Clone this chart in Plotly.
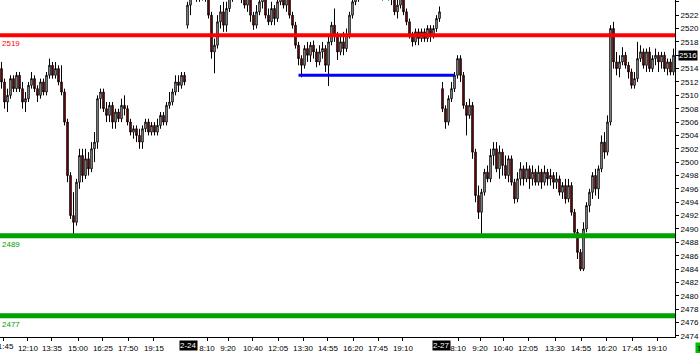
import plotly.graph_objects as go

# ---- Day 1 (ends 2-23) ----
d1_open = [2514, 2512, 2509, 2510, 2512.5, 2511, 2513, 2511, 2509, 2509.5,
           2511.5, 2512.5, 2511, 2510, 2512, 2510.5, 2513, 2514.5, 2513, 2514,
           2512, 2510.5, 2506, 2498, 2492, 2491, 2497, 2501, 2498, 2500.5,
           2499, 2502, 2503, 2509.5, 2510.5, 2508, 2507, 2508.5, 2506, 2507.5,
           2506.5, 2508.5, 2508, 2506, 2504.5, 2505, 2504, 2503, 2505, 2506,
           2504.5, 2505.5, 2504.5, 2505.5, 2507, 2506, 2508.5, 2509, 2510.5, 2512,
           2511.5, 2513, 2520.5]
d1_high = [2515, 2512.5, 2511, 2513, 2513, 2513.5, 2513.5, 2512, 2510.5, 2512,
           2513.5, 2513, 2511.5, 2512.5, 2512.5, 2513.5, 2515.5, 2515, 2515, 2514.5,
           2514.5, 2511, 2506.5, 2498.5, 2495.5, 2497.5, 2502, 2502, 2502, 2501.5,
           2503, 2504.5, 2510, 2511, 2511, 2509, 2509, 2509, 2508, 2508,
           2509.5, 2510, 2508.5, 2506.5, 2505.5, 2505.5, 2505, 2505.5, 2506.5, 2506.5,
           2506, 2506, 2506.5, 2507.5, 2507.5, 2509, 2510.5, 2511, 2513, 2513,
           2513.5, 2513.5, 2524]
d1_low = [2511, 2508, 2507.5, 2509.5, 2510.5, 2510.5, 2510.5, 2508, 2507.5, 2509,
          2511, 2510.5, 2509, 2509.5, 2510, 2510, 2512.5, 2512.5, 2512.5, 2511.5,
          2510, 2505.5, 2497, 2491.5, 2489, 2490.5, 2496, 2497, 2497.5, 2498,
          2498.5, 2500, 2502, 2508, 2507.5, 2506, 2506, 2505, 2505, 2506,
          2506, 2507, 2505.5, 2504, 2503.5, 2503, 2502, 2502, 2504.5, 2504,
          2504, 2504, 2504, 2505, 2505.5, 2505.5, 2508, 2508.5, 2510, 2510.5,
          2511, 2511.5, 2520]
d1_close = [2512, 2509, 2510, 2512.5, 2511, 2513, 2511, 2509, 2509.5, 2511.5,
            2512.5, 2511, 2510, 2512, 2510.5, 2513, 2514.5, 2513, 2514, 2512,
            2510.5, 2506, 2498, 2492, 2491, 2497, 2501, 2498, 2500.5, 2499,
            2502, 2503, 2509.5, 2510.5, 2508, 2507, 2508.5, 2506, 2507.5, 2506.5,
            2508.5, 2508, 2506, 2504.5, 2505, 2504, 2503, 2505, 2506, 2504.5,
            2505.5, 2504.5, 2505.5, 2507, 2506, 2508.5, 2509, 2510.5, 2512, 2511.5,
            2513, 2512, 2523.5]

# ---- Day 2 (2-24) ----
d2_open = [2523.5, 2525.5, 2526.5, 2525, 2526, 2525, 2525.5, 2522, 2516.5, 2517.5,
           2521, 2522.5, 2520.5, 2523, 2525, 2526, 2525.5, 2526.5, 2525, 2523.5,
           2524.5, 2522, 2520.5, 2522.5, 2524, 2525, 2522, 2521, 2523, 2521.5,
           2524, 2525.5, 2523.5, 2524.5, 2522, 2520.5, 2517.5, 2515.5, 2514.5, 2517,
           2516, 2517.5, 2516.5, 2515, 2516.5, 2517, 2514.5, 2518, 2520.5, 2519,
           2516.5, 2518, 2517, 2519, 2522, 2524, 2526, 2525, 2527, 2526,
           2527.5, 2526.5, 2527, 2525.5, 2526, 2525, 2526, 2525, 2524.5, 2522.5,
           2523.5, 2524.5, 2522.5, 2521, 2519, 2518, 2519.5, 2518.5, 2519.5, 2518.5,
           2520, 2519, 2520, 2521.5]
d2_high = [2526, 2527.5, 2527, 2527, 2527, 2526.5, 2526, 2522.5, 2518.5, 2522,
           2523.5, 2524, 2524, 2526, 2527, 2527, 2527.5, 2527, 2525.5, 2525.5,
           2525, 2522.5, 2523.5, 2525, 2526, 2525.5, 2523, 2524, 2523.5, 2525,
           2526.5, 2526, 2525.5, 2525, 2522.5, 2521, 2518, 2516, 2517.5, 2518,
           2518, 2518.2, 2517, 2517.5, 2518, 2517.5, 2519, 2521, 2523, 2519.5,
           2519, 2519.5, 2520, 2522.5, 2525, 2527, 2527, 2528, 2528, 2528.5,
           2528.5, 2528, 2527.5, 2527, 2527, 2527, 2527, 2526, 2525, 2524.5,
           2525.5, 2525, 2523, 2521.5, 2519.5, 2520, 2520, 2520, 2520, 2520.5,
           2520.5, 2520.5, 2522, 2523.3]
d2_low = [2522, 2524.5, 2524, 2524, 2524.2, 2524, 2521.5, 2515.5, 2513.3, 2517,
          2520, 2519.5, 2519.5, 2522.5, 2524, 2524.5, 2524.6, 2523.8, 2523, 2522.5,
          2521, 2519.8, 2520, 2522, 2523, 2521.5, 2520.5, 2520.5, 2520.5, 2521,
          2523.5, 2523, 2522.5, 2521.5, 2520, 2517, 2514.5, 2512.7, 2514, 2515,
          2515, 2515.5, 2514.2, 2514.5, 2515.5, 2513.5, 2511.4, 2517.5, 2518, 2515.3,
          2516, 2516, 2516.5, 2518.5, 2521.5, 2523.5, 2524, 2524.3, 2525, 2525.5,
          2525.5, 2525.5, 2524.8, 2524.5, 2524.2, 2524.5, 2524.2, 2523.5, 2522, 2521.5,
          2523, 2522, 2520.5, 2518.5, 2517.3, 2517.5, 2517.5, 2518, 2518, 2518,
          2518, 2518.5, 2519.5, 2521]
d2_close = [2525.5, 2526.5, 2525, 2526, 2525, 2525.5, 2522, 2516.5, 2517.5, 2521,
            2522.5, 2520.5, 2523, 2525, 2526, 2525.5, 2526.5, 2525, 2523.5, 2524.5,
            2522, 2520.5, 2522.5, 2524, 2525, 2522, 2521, 2523, 2521.5, 2524,
            2525.5, 2523.5, 2524.5, 2522, 2520.5, 2517.5, 2515.5, 2514.5, 2517, 2516,
            2517.5, 2516.5, 2515, 2516.5, 2517, 2514.5, 2518, 2520.5, 2519, 2516.5,
            2518, 2517, 2519, 2522, 2524, 2526, 2525, 2527, 2526, 2527.5,
            2526.5, 2527, 2525.5, 2526, 2525, 2526, 2525, 2524.5, 2522.5, 2523.5,
            2524.5, 2522.5, 2521, 2519, 2518, 2519.5, 2518.5, 2519.5, 2518.5, 2520,
            2519, 2520, 2521.5, 2522.5]

# ---- Day 3 (2-27) ----
d3_open = [2511, 2508, 2506, 2509.5, 2511, 2513, 2515.5, 2513, 2508.5, 2507,
           2508.5, 2501.5, 2495, 2492.5, 2495.5, 2498.5, 2497.5, 2501, 2502, 2499,
           2501.5, 2499.5, 2498, 2500.5, 2497, 2494.5, 2497.5, 2499, 2497.5, 2499,
           2497.5, 2498.5, 2497, 2498.5, 2497, 2498.5, 2497.5, 2498, 2497, 2497.5,
           2495.5, 2496.5, 2494.5, 2496.5, 2492.5, 2489.5, 2486.5, 2484, 2490, 2493.5,
           2495.5, 2498, 2496, 2499, 2503, 2501.5, 2506, 2520, 2515, 2514,
           2515, 2516, 2514.5, 2513.5, 2511.5, 2512.5, 2515.5, 2516.5, 2514.5, 2516.5,
           2514, 2515.5, 2516, 2515, 2516, 2514, 2515, 2513.5]
d3_high = [2512, 2508.5, 2510, 2512, 2513.5, 2516, 2516, 2513.5, 2509, 2509.5,
           2509, 2502, 2496.5, 2496, 2499, 2499.5, 2502, 2503, 2503, 2502.5,
           2502, 2501, 2501, 2501, 2497.5, 2498.5, 2500, 2499.5, 2500, 2499.5,
           2499.5, 2499, 2499.5, 2499, 2499.5, 2499, 2499, 2498.5, 2498.5, 2498,
           2497, 2497.5, 2497.5, 2497, 2493, 2490, 2487, 2491, 2494, 2496,
           2498.5, 2499, 2499.5, 2504, 2504.5, 2507, 2520.5, 2521, 2516.5, 2516,
           2517.2, 2516.5, 2515, 2514, 2513.5, 2518, 2517.5, 2517, 2517, 2517.2,
           2516, 2517, 2516.5, 2516.5, 2516.5, 2515.5, 2515.5, 2517]
d3_low = [2507.5, 2505, 2505.5, 2509, 2510.5, 2512.5, 2512, 2508, 2504, 2506.5,
          2500.5, 2494, 2491.5, 2489, 2495, 2497, 2497, 2499.5, 2498.5, 2497.5,
          2498, 2497.5, 2497, 2496.5, 2493.8, 2494, 2496.5, 2496.5, 2497, 2496,
          2496.5, 2496.5, 2496.5, 2496, 2496.5, 2496.5, 2496.5, 2496, 2496, 2495,
          2494.5, 2493.8, 2494, 2492, 2489, 2485.5, 2483.7, 2483.7, 2489.5, 2492.5,
          2494.5, 2495, 2494.5, 2498.5, 2500.5, 2501, 2505.5, 2514, 2513, 2512.7,
          2514.5, 2514, 2512.5, 2511, 2511, 2512, 2515, 2514, 2513.5, 2513.5,
          2513.5, 2514.5, 2513.5, 2514, 2513.5, 2513, 2513, 2513]
d3_close = [2508, 2506, 2509.5, 2511, 2513, 2515.5, 2513, 2508.5, 2507, 2508.5,
            2501.5, 2495, 2492.5, 2495.5, 2498.5, 2497.5, 2501, 2502, 2499, 2501.5,
            2499.5, 2498, 2500.5, 2497, 2494.5, 2497.5, 2499, 2497.5, 2499, 2497.5,
            2498.5, 2497, 2498.5, 2497, 2498.5, 2497.5, 2498, 2497, 2497.5, 2495.5,
            2496.5, 2494.5, 2496.5, 2492.5, 2489.5, 2486.5, 2484, 2490, 2493.5, 2495.5,
            2498, 2496, 2499, 2503, 2501.5, 2506, 2520, 2515, 2514, 2515,
            2516, 2514.5, 2513.5, 2511.5, 2512.5, 2515.5, 2516.5, 2514.5, 2516.5, 2514,
            2515.5, 2516, 2515, 2516, 2514, 2515, 2513.5, 2516]

opens = d1_open + d2_open + d3_open
highs = d1_high + d2_high + d3_high
lows = d1_low + d2_low + d3_low
closes = d1_close + d2_close + d3_close
bars = list(range(len(opens)))

# horizontal levels
red_level = 2519
green_levels = [2489, 2477]
blue_level = 2513
blue_from_bar = 99
blue_to_bar = 151
last_price = 2516

# axis labels
first_time_label = "11:45"
first_time_pos = 0.8
time_labels = ["12:10", "13:35", "15:00", "16:25", "17:50", "19:15",
               "8:10", "9:20", "10:40", "12:05", "13:30", "14:55", "16:20", "17:45", "19:10",
               "8:10", "9:20", "10:40", "12:05", "13:30", "14:55", "16:20", "17:45", "19:10"]
time_pos = [8.8, 16.8, 25.5, 33.8, 42.2, 50.8,
            68.5, 75.5, 83.8, 92.2, 100.5, 108.8, 117.2, 125.5, 133.8,
            152.2, 159.5, 167.2, 175.5, 184.5, 193.2, 201.8, 210.2, 218.5]
date_labels = ["2-24", "2-27"]
date_pos = [62.2, 146.5]
price_ticks = list(range(2474, 2525, 2))
price_text = ["" if v == last_price else str(v) for v in price_ticks]

FONT = "Liberation Sans"

fig = go.Figure()
fig.add_trace(go.Candlestick(
    x=bars, open=opens, high=highs, low=lows, close=closes,
    increasing=dict(line=dict(color="#000000", width=1), fillcolor="#E0E0E0"),
    decreasing=dict(line=dict(color="#000000", width=1), fillcolor="#C00000"),
    whiskerwidth=0, showlegend=False, hoverinfo="skip"))

shapes = [dict(type="line", xref="paper", x0=0, x1=1, y0=red_level, y1=red_level,
               line=dict(color="#FF0000", width=4))]
for g in green_levels:
    shapes.append(dict(type="line", xref="paper", x0=0, x1=1, y0=g, y1=g,
                       line=dict(color="#00A000", width=5)))
shapes.append(dict(type="line", xref="x", x0=blue_from_bar, x1=blue_to_bar,
                   y0=blue_level, y1=blue_level, line=dict(color="#0000FF", width=3)))

annotations = [dict(x=0, xref="paper", y=red_level, yref="y", text=str(red_level),
                    xanchor="left", yanchor="top", yshift=-2, showarrow=False,
                    font=dict(family=FONT, size=8, color="#FF0000"))]
for g in green_levels:
    annotations.append(dict(x=0, xref="paper", y=g, yref="y", text=str(g),
                            xanchor="left", yanchor="top", yshift=-2, showarrow=False,
                            font=dict(family=FONT, size=8, color="#00A000")))
annotations.append(dict(x=first_time_pos, xref="x", y=0, yref="paper", text=first_time_label,
                        xanchor="center", yanchor="top", yshift=-3, showarrow=False,
                        font=dict(family=FONT, size=8, color="#000000")))
for lab, p in zip(date_labels, date_pos):
    annotations.append(dict(x=p, xref="x", y=0, yref="paper", text=lab,
                            xanchor="center", yanchor="top", yshift=-3, showarrow=False,
                            bgcolor="#000000", borderpad=0,
                            font=dict(family=FONT, size=8, color="#FFFFFF")))
annotations.append(dict(x=1, xref="paper", y=last_price, yref="y", text=str(last_price),
                        xanchor="left", yanchor="middle", xshift=3, showarrow=False,
                        bgcolor="#000000", borderpad=0,
                        font=dict(family=FONT, size=8, color="#FFFFFF")))
annotations.append(dict(x=1.03, xref="paper", y=0, yref="paper", text="1",
                        xanchor="left", yanchor="top", yshift=-5, showarrow=False,
                        bgcolor="#00C000", borderpad=1,
                        font=dict(family=FONT, size=8, color="#000000")))

fig.update_layout(
    width=700, height=353,
    margin=dict(l=0, r=25, t=0, b=13),
    paper_bgcolor="white", plot_bgcolor="white",
    shapes=shapes, annotations=annotations,
    font=dict(family=FONT, size=8, color="#000000"),
    xaxis=dict(range=[-0.5, 224.5], rangeslider=dict(visible=False),
               tickvals=[first_time_pos] + time_pos, ticktext=[""] + time_labels,
               showgrid=False, zeroline=False,
               showline=True, linecolor="#000000", linewidth=1,
               ticks="outside", ticklen=3, tickcolor="#000000",
               tickfont=dict(family=FONT, size=8, color="#000000")),
    yaxis=dict(range=[2473.83, 2524.27], side="right", tickvals=price_ticks,
               ticktext=price_text,
               showgrid=False, zeroline=False, showline=True, linecolor="#000000",
               linewidth=1, ticks="outside", ticklen=3, tickcolor="#000000",
               tickfont=dict(family=FONT, size=8, color="#000000")),
)

fig.write_html("out.html")
